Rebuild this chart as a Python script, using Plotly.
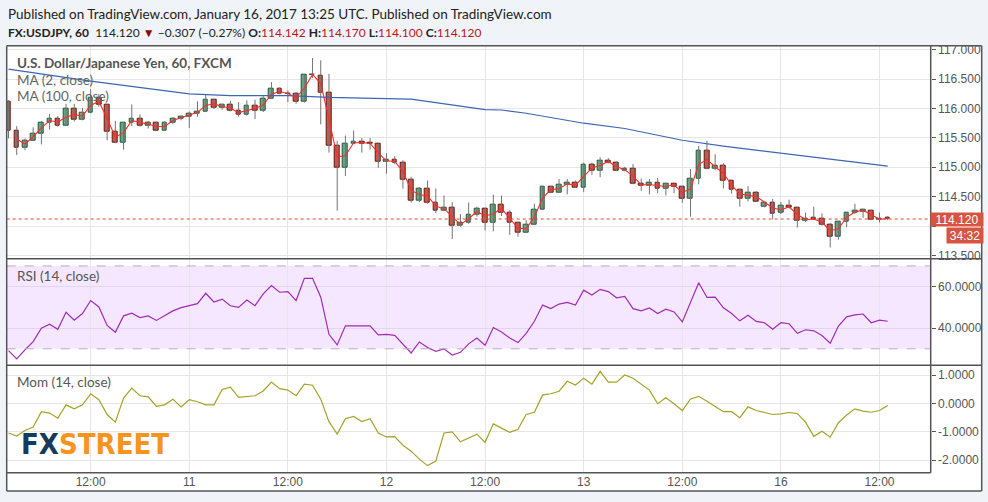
import plotly.graph_objects as go

# ---- data (USDJPY, 60 min bars, Jan 10 02:00 .. Jan 16 13:00 UTC) ----
tick_idx = [10, 22, 34, 46, 58, 70, 82, 94, 106]
tick_text = ["12:00", "11", "12:00", "12", "12:00", "13", "12:00", "16", "12:00"]

opens = [116.12, 115.63, 115.33, 115.46, 115.58, 115.76, 115.83, 115.71, 115.99, 115.81,
         115.93, 116.18, 116.06, 115.60, 115.42, 115.76, 115.83, 115.71, 115.76, 115.63,
         115.76, 115.83, 115.86, 115.92, 115.95, 116.15, 116.01, 116.06, 115.96, 115.90,
         116.04, 115.96, 116.16, 116.33, 116.25, 116.25, 116.11, 116.57, 116.565, 116.27,
         115.37, 114.99, 115.40, 115.435, 115.42, 115.40, 115.09, 115.13, 115.07, 114.79,
         114.43, 114.635, 114.40, 114.26, 114.32, 114.00, 114.05, 114.20, 114.295, 114.05,
         114.37, 114.23, 114.05, 113.88, 114.03, 114.28, 114.67, 114.57, 114.70, 114.735,
         114.66, 115.04, 114.94, 115.12, 115.08, 114.94, 114.98, 114.72, 114.68, 114.735,
         114.635, 114.72, 114.675, 114.47, 114.80, 115.29, 114.98, 115.03, 114.775, 114.62,
         114.47, 114.575, 114.33, 114.40, 114.22, 114.34, 114.32, 114.09, 114.14, 114.12,
         114.015, 113.825, 114.08, 114.22, 114.25, 114.27, 114.10, 114.142]
highs = [116.14, 115.70, 115.49, 115.68, 115.79, 115.91, 115.87, 116.08, 116.08, 116.01,
         116.33, 116.24, 116.07, 115.79, 115.77, 116.07, 115.90, 115.79, 115.78, 115.78,
         115.85, 115.88, 115.95, 116.12, 116.24, 116.16, 116.08, 116.13, 116.11, 116.14,
         116.15, 116.21, 116.45, 116.36, 116.31, 116.28, 116.58, 116.86, 116.82, 116.59,
         115.45, 115.54, 115.625, 115.50, 115.50, 115.40, 115.24, 115.19, 115.12, 114.84,
         114.66, 114.775, 114.64, 114.52, 114.41, 114.205, 114.40, 114.33, 114.31, 114.535,
         114.52, 114.27, 114.06, 114.10, 114.38, 114.67, 114.685, 114.80, 114.80, 114.775,
         115.08, 115.08, 115.17, 115.155, 115.10, 115.01, 115.055, 114.81, 114.80, 114.82,
         114.73, 114.72, 114.685, 114.97, 115.36, 115.45, 115.22, 115.07, 114.775, 114.635,
         114.68, 114.59, 114.41, 114.46, 114.41, 114.45, 114.32, 114.23, 114.33, 114.215,
         114.05, 114.08, 114.24, 114.38, 114.295, 114.28, 114.23, 114.17]
lows = [115.49, 115.21, 115.29, 115.45, 115.39, 115.64, 115.69, 115.70, 115.78, 115.80,
        115.92, 116.03, 115.46, 115.41, 115.30, 115.70, 115.69, 115.66, 115.63, 115.62,
        115.74, 115.80, 115.67, 115.86, 115.94, 115.99, 115.98, 115.95, 115.86, 115.88,
        115.82, 115.94, 116.16, 116.24, 116.11, 116.08, 116.10, 116.52, 115.73, 115.25,
        114.26, 114.85, 115.40, 115.25, 115.30, 114.99, 114.89, 115.055, 114.635, 114.40,
        114.41, 114.38, 114.22, 114.26, 113.78, 113.99, 114.04, 114.16, 113.925, 113.91,
        114.17, 113.85, 113.82, 113.88, 114.015, 114.28, 114.56, 114.57, 114.54, 114.66,
        114.58, 114.87, 114.83, 115.065, 114.94, 114.93, 114.71, 114.60, 114.54, 114.56,
        114.52, 114.56, 114.395, 114.16, 114.71, 114.965, 114.95, 114.64, 114.55, 114.33,
        114.42, 114.405, 114.32, 114.115, 114.205, 114.30, 113.975, 114.07, 114.115, 114.01,
        113.635, 113.77, 113.98, 114.205, 114.14, 114.10, 114.06, 114.10]
closes = [115.63, 115.33, 115.46, 115.58, 115.76, 115.83, 115.71, 115.99, 115.81, 115.93,
          116.18, 116.06, 115.60, 115.42, 115.76, 115.83, 115.71, 115.76, 115.63, 115.76,
          115.83, 115.86, 115.92, 115.95, 116.15, 116.01, 116.06, 115.96, 115.90, 116.04,
          115.96, 116.16, 116.33, 116.25, 116.26, 116.11, 116.58, 116.58, 116.27, 115.37,
          114.99, 115.40, 115.435, 115.41, 115.40, 115.09, 115.13, 115.07, 114.79, 114.43,
          114.635, 114.40, 114.27, 114.32, 114.00, 114.05, 114.20, 114.295, 114.05, 114.367,
          114.23, 114.05, 113.88, 114.03, 114.28, 114.67, 114.57, 114.70, 114.735, 114.66,
          115.04, 114.94, 115.12, 115.08, 114.94, 114.98, 114.72, 114.68, 114.735, 114.635,
          114.72, 114.675, 114.47, 114.80, 115.29, 114.98, 115.03, 114.775, 114.62, 114.47,
          114.575, 114.42, 114.40, 114.216, 114.34, 114.31, 114.09, 114.125, 114.115, 114.015,
          113.825, 114.08, 114.22, 114.26, 114.28, 114.10, 114.13, 114.12]

# MA(100) read at a handful of bars
ma100_idx = [0, 10, 22, 27, 34, 39, 46, 49, 58, 60, 63, 70, 75, 78, 82, 87, 94, 100, 107]
ma100_val = [116.67, 116.465, 116.25, 116.22, 116.22, 116.19, 116.17, 116.16, 115.98, 115.975,
             115.92, 115.75, 115.66, 115.57, 115.46, 115.36, 115.24, 115.13, 115.02]

rsi = [29.1, 25.1, 29.5, 33.5, 39.9, 41.9, 39.4, 47.6, 43.8, 47.0,
       53.3, 50.2, 41.3, 38.0, 45.9, 47.2, 45.1, 45.9, 43.7, 46.2,
       48.3, 49.9, 51.0, 51.8, 56.8, 52.6, 54.0, 50.8, 50.0, 53.5,
       50.8, 56.5, 60.5, 57.3, 57.6, 53.3, 64.0, 64.0, 54.9, 37.0,
       31.9, 41.1, 41.1, 41.1, 41.1, 36.7, 37.0, 36.5, 32.4, 28.0,
       33.3, 30.6, 28.8, 30.0, 27.0, 28.3, 32.4, 35.2, 31.7, 40.3,
       38.1, 35.2, 33.0, 37.5, 43.3, 51.1, 49.4, 51.6, 52.4, 51.1,
       58.3, 56.0, 58.7, 57.6, 54.6, 55.3, 49.4, 48.3, 49.7, 47.0,
       49.1, 47.8, 43.0, 52.5, 61.9, 54.8, 54.9, 49.8, 47.0, 43.5,
       46.2, 43.2, 42.6, 39.4, 42.6, 42.1, 37.5, 39.2, 38.7, 36.4,
       32.7, 41.0, 45.4, 46.4, 46.8, 42.6, 43.8, 43.3]
rsi_bands = [30, 70]

mom = [-1.04, -1.15, -0.95, -0.83, -0.29, -0.34, -0.52, -0.05, -0.19, -0.05,
       0.34, 0.13, -0.39, -0.66, 0.19, 0.54, 0.27, 0.23, -0.10, -0.05,
       0.15, -0.12, 0.13, 0.06, -0.05, -0.05, 0.49, 0.57, 0.21, 0.23,
       0.27, 0.44, 0.75, 0.52, 0.47, 0.27, 0.68, 0.64, 0.15, -0.64,
       -1.08, -0.54, -0.46, -0.64, -0.54, -1.04, -1.18, -1.17, -1.47, -1.68,
       -1.96, -2.19, -2.03, -1.04, -1.00, -1.35, -1.22, -1.08, -1.37, -0.72,
       -0.87, -1.02, -0.91, -0.39, -0.31, 0.30, 0.34, 0.43, 0.78, 0.65,
       0.89, 0.68, 1.13, 0.75, 0.75, 1.00, 0.89, 0.69, 0.47, -0.01,
       0.20, -0.01, -0.25, 0.16, 0.25, 0.08, -0.09, -0.29, -0.29, -0.50,
       -0.12, -0.25, -0.32, -0.39, -0.37, -0.32, -0.36, -0.66, -1.16, -0.98,
       -1.19, -0.68, -0.41, -0.19, -0.27, -0.31, -0.25, -0.07]

price_ticks = [113.5, 114.0, 114.5, 115.0, 115.5, 116.0, 116.5, 117.0]
rsi_ticks = [40, 60]
mom_ticks = [1, 0, -1, -2]

# ---- page geometry in pixels ----
W, H = 988, 502
LEFT, AXIS_X, RIGHT = 6.7, 930.7, 981.7
TOP, SEP1, SEP2, BOT, FRAME_BOT = 43.3, 259.3, 367.3, 476.3, 495.0


def px(x):
    return x / W


def py(y):
    return 1 - y / H


UP, UP_EDGE = "#6ba583", "#225437"
DOWN, DOWN_EDGE = "#d75442", "#5b1a13"
GRID = "#e6e6e6"
AXIS_FONT = dict(family="Liberation Sans, Arial, sans-serif", size=12, color="#555555")

idx = list(range(len(closes)))

wick_x, wick_y = [], []
for i, (h, l) in enumerate(zip(highs, lows)):
    wick_x += [i, i, None]
    wick_y += [l, h, None]

body_lo = [min(o, c) for o, c in zip(opens, closes)]
body_h = [max(abs(c - o), 0.004) for o, c in zip(opens, closes)]
fills = [UP if c >= o else DOWN for o, c in zip(opens, closes)]
edges = [UP_EDGE if c >= o else DOWN_EDGE for o, c in zip(opens, closes)]

ma2 = [None] + [(closes[i - 1] + closes[i]) / 2 for i in range(1, len(closes))]

fig = go.Figure()
fig.add_trace(go.Scatter(x=wick_x, y=wick_y, mode="lines",
                         line=dict(color="#737375", width=1), hoverinfo="skip"))
fig.add_trace(go.Bar(x=idx, y=body_h, base=body_lo, width=0.58,
                     marker=dict(color=fills, line=dict(color=edges, width=1))))
fig.add_trace(go.Scatter(x=ma100_idx, y=ma100_val, mode="lines",
                         line=dict(color="#3d65b4", width=1.2)))
fig.add_trace(go.Scatter(x=idx, y=ma2, mode="lines",
                         line=dict(color="#ff2a2a", width=1.1)))
fig.add_trace(go.Scatter(x=idx, y=rsi, mode="lines", xaxis="x2", yaxis="y2",
                         line=dict(color="#a02bb5", width=1.2)))
fig.add_trace(go.Scatter(x=idx, y=mom, mode="lines", xaxis="x3", yaxis="y3",
                         line=dict(color="#a5a228", width=1.2)))

xrange = [-0.22, 112.23]
xcommon = dict(domain=[px(LEFT), px(AXIS_X)], range=xrange, tickvals=tick_idx,
               showgrid=True, gridcolor=GRID, zeroline=False, showline=False, ticks="")
ycommon = dict(side="right", showgrid=True, gridcolor=GRID, zeroline=False, showline=False,
               ticks="outside", ticklen=4, tickcolor="#555555", tickfont=AXIS_FONT)

# the 114.000 label sits under the last-price tag, so it stays blank
price_labels = ["" if abs(v - 114.0) < 1e-9 else f"{v:.3f}" for v in price_ticks]

fig.update_layout(
    width=W, height=H,
    margin=dict(l=0, r=0, t=0, b=0),
    paper_bgcolor="#f0f3f7",
    plot_bgcolor="white",
    showlegend=False,
    bargap=0,
    xaxis=dict(xcommon, anchor="y", showticklabels=False),
    xaxis2=dict(xcommon, anchor="y2", matches="x", showticklabels=False),
    xaxis3=dict(xcommon, anchor="y3", matches="x", showticklabels=True,
                ticktext=tick_text, tickfont=AXIS_FONT),
    yaxis=dict(ycommon, anchor="x", domain=[py(SEP1), py(TOP)], range=[113.445, 117.069],
               tickvals=price_ticks, ticktext=price_labels),
    yaxis2=dict(ycommon, anchor="x2", domain=[py(SEP2), py(SEP1)], range=[22.1, 73.5],
                tickvals=rsi_ticks, ticktext=[f"{v:.4f}" for v in rsi_ticks],
                gridcolor="#e2d6ea"),
    yaxis3=dict(ycommon, anchor="x3", domain=[py(BOT), py(SEP2)], range=[-2.4375, 1.347],
                tickvals=mom_ticks, ticktext=[f"{v:.4f}" for v in mom_ticks]),
)

frame = "#555555"
shapes = [
    # white chart card
    dict(type="rect", xref="paper", yref="paper", x0=px(LEFT), x1=px(RIGHT),
         y0=py(FRAME_BOT), y1=py(TOP), fillcolor="white", line=dict(width=0), layer="below"),
    # RSI band
    dict(type="rect", xref="x2 domain", yref="y2", x0=0, x1=1, y0=rsi_bands[0], y1=rsi_bands[1],
         fillcolor="rgba(153,21,255,0.10)", line=dict(width=0), layer="below"),
    # last price line
    dict(type="line", xref="x domain", yref="y", x0=0, x1=1, y0=closes[-1], y1=closes[-1],
         line=dict(color="#e0452f", width=1, dash="dot")),
]
for b in rsi_bands:
    shapes.append(dict(type="line", xref="x2 domain", yref="y2", x0=0, x1=1, y0=b, y1=b,
                       line=dict(color="#bbaac4", width=1, dash="dash")))
# frame and panel separators
for (x0, y0, x1, y1) in [(LEFT, TOP, RIGHT, TOP), (LEFT, FRAME_BOT, RIGHT, FRAME_BOT),
                         (LEFT, TOP, LEFT, FRAME_BOT), (RIGHT, TOP, RIGHT, FRAME_BOT),
                         (AXIS_X, TOP, AXIS_X, BOT), (LEFT, SEP1, RIGHT, SEP1),
                         (LEFT, SEP2, RIGHT, SEP2), (LEFT, BOT, AXIS_X, BOT)]:
    shapes.append(dict(type="line", xref="paper", yref="paper", x0=px(x0), x1=px(x1),
                       y0=py(y0), y1=py(y1), line=dict(color=frame, width=1.5)))
fig.update_layout(shapes=shapes)

red = "#c0141b"
header2 = ("<b>FX:USDJPY, 60</b>\u00a0\u00a0" + f"{closes[-1]:.3f} "
           "<span style='color:#8b0a0a'>▼</span> −0.307 (−0.27%) "
           f"<b>O:</b><span style='color:{red}'>{opens[-1]:.3f}</span> "
           f"<b>H:</b><span style='color:{red}'>{highs[-1]:.3f}</span> "
           f"<b>L:</b><span style='color:{red}'>{lows[-1]:.3f}</span> "
           f"<b>C:</b><span style='color:{red}'>{closes[-1]:.3f}</span>")

TXT = "Lato, Noto Sans, sans-serif"
notes = [
    dict(x=6, y=11, text="Published on TradingView.com, January 16, 2017 13:25 UTC. "
                         "Published on TradingView.com",
         font=dict(family=TXT, size=13.5, color="#222222")),
    dict(x=6, y=30, text=header2, font=dict(family=TXT, size=12, color="#222222")),
    dict(x=15, y=61, text="<b>U.S. Dollar/Japanese Yen, 60, FXCM</b>",
         font=dict(family=TXT, size=13.5, color="#555555")),
    dict(x=15, y=78, text="MA (2, close)", font=dict(family=TXT, size=13.5, color="#666666")),
    dict(x=15, y=94.5, text="MA (100, close)", font=dict(family=TXT, size=13.5, color="#666666")),
    dict(x=15, y=277, text="RSI (14, close)", font=dict(family=TXT, size=13.5, color="#555555")),
    dict(x=15, y=384.5, text="Mom (14, close)", font=dict(family=TXT, size=13.5, color="#555555")),
    dict(x=19, y=447, text="<b><span style='color:#153a5b'>FX</span>"
                           "<span style='color:#f7941e'>STREET</span></b>",
         font=dict(family="DejaVu Sans Condensed, Liberation Sans Narrow, sans-serif", size=29)),
]
annotations = []
for n in notes:
    annotations.append(dict(xref="paper", yref="paper", x=px(n["x"]), y=py(n["y"]),
                            xanchor="left", yanchor="middle", showarrow=False,
                            text=n["text"], font=n["font"]))
# price tag and countdown on the price scale
annotations.append(dict(xref="paper", yref="paper", x=px(956.7), y=py(219.5), showarrow=False,
                        xanchor="center", yanchor="middle", text=f"{closes[-1]:.3f}",
                        bgcolor=DOWN, width=50, height=11, borderpad=1,
                        font=dict(family="Liberation Sans, Arial", size=12, color="white")))
annotations.append(dict(xref="paper", yref="paper", x=px(964.7), y=py(236), showarrow=False,
                        xanchor="center", yanchor="middle", text="34:32",
                        bgcolor=DOWN, width=34, height=13, borderpad=1,
                        font=dict(family="Liberation Sans, Arial", size=12, color="white")))
fig.update_layout(annotations=annotations)

fig.write_html("out.html", config={"displayModeBar": False},
               post_script="document.body.style.margin='0';")
